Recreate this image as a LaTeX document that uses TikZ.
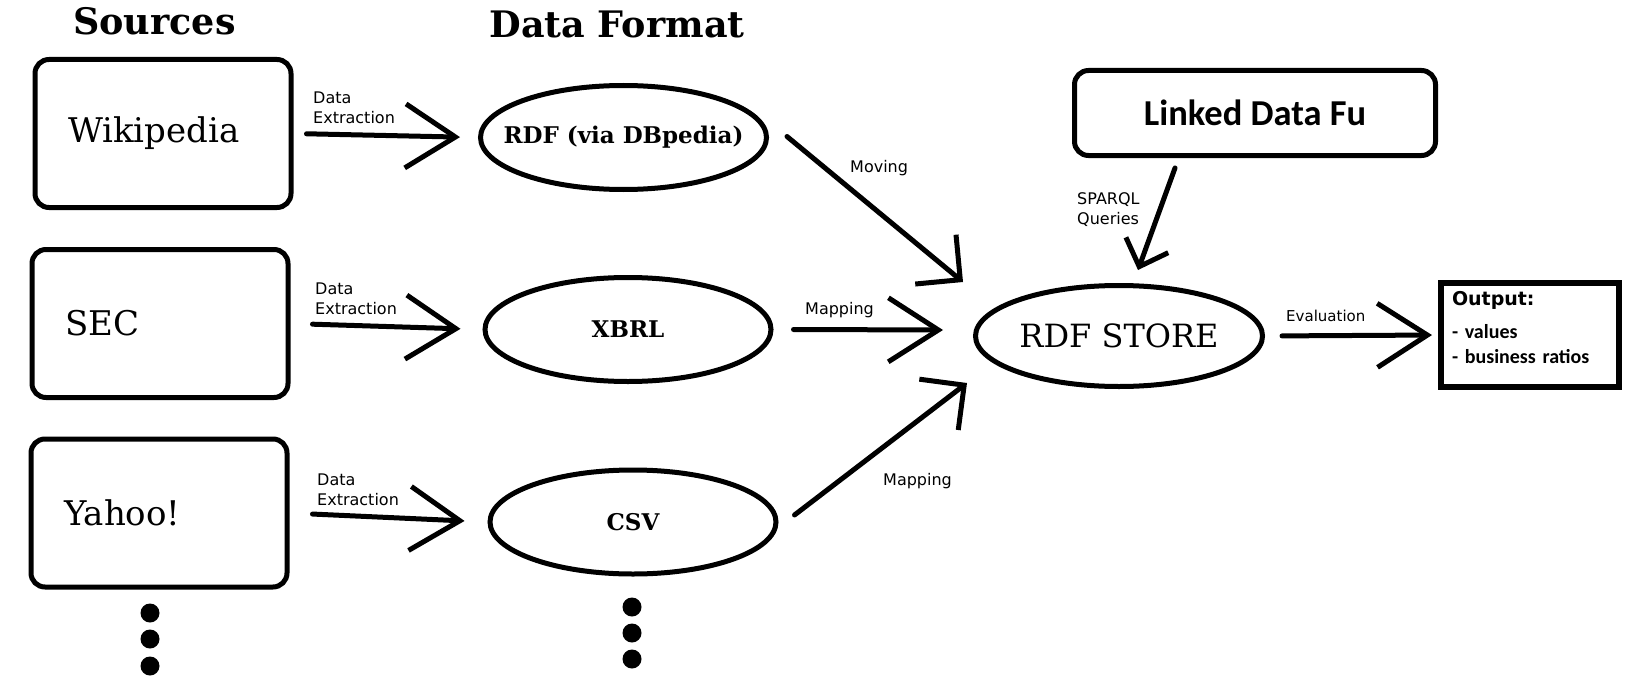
\documentclass[tikz,border=0pt]{standalone}
\usepackage{fontspec}
\setmainfont{DejaVu Serif}
\newfontfamily\labfont{DejaVu Sans}
\newfontfamily\calfont{Carlito}
\usetikzlibrary{arrows.meta,shapes.geometric,calc}
\begin{document}
\begin{tikzpicture}[x=1pt,y=-1pt,
  srcbox/.style={draw, line width=5pt, rounded corners=14pt, minimum width=256pt, minimum height=148pt,
    inner sep=0pt, text width=190pt, align=left, font=\fontsize{34}{40}\selectfont},
  fmt/.style={draw, ellipse, line width=5pt, minimum width=286pt, minimum height=104pt, inner sep=0pt,
    font=\bfseries\fontsize{23}{28}\selectfont},
  titletext/.style={font=\bfseries\fontsize{36.5}{42}\selectfont, anchor=base, inner sep=0pt},
  lbl/.style={font=\labfont\fontsize{16}{20}\selectfont, align=left, anchor=north west, inner sep=0pt},
  arr/.style={line width=5pt, line cap=round, -{Straight Barb[length=50pt,width=64pt]}},
  arrd/.style={line width=5pt, line cap=round, -{Straight Barb[length=32pt,width=64pt]}},
  arrs/.style={line width=5pt, line cap=round, -{Straight Barb[length=23pt,width=45pt]}},
  dot/.style={fill=black},
]
\fill[white] (0,0) rectangle (1632,690);
\useasboundingbox (0,0) rectangle (1632,690);

% titles
\node[titletext] (tsrc) at (154.5,35) {Sources};
\node[titletext] (tfmt) at (617,38) {Data Format};

% sources
\node[srcbox] (wiki) at (163,133.5) {Wikipedia};
\node[srcbox] (sec) at (160,323.5) {SEC};
\node[srcbox] (yahoo) at (159,513) {Yahoo!};

% formats
\node[fmt, inner xsep=-50pt, font=\bfseries\fontsize{23}{28}\selectfont] (rdf) at (623.5,137.5) {RDF (via DBpedia)};
\node[fmt] (xbrl) at (628,329.5) {XBRL};
\node[fmt] (csv) at (633,522) {CSV};

% store
\node[fmt, minimum width=287pt, minimum height=101pt, font=\fontsize{32}{38}\selectfont] (store) at (1119,336) {RDF STORE};

% linked data fu
\node[draw, line width=5pt, rounded corners=14pt, minimum width=361pt, minimum height=85pt, inner sep=0pt,
  font=\calfont\bfseries\fontsize{36.5}{42}\selectfont] (ldf) at (1255,113) {Linked Data Fu};

% output
\node[draw, line width=6pt, minimum width=178pt, minimum height=104pt, inner sep=0pt, text width=156pt,
  align=left, text depth=74pt, font=\calfont\bfseries\fontsize{20}{25}\selectfont] (out) at (1530,335)
  {{\labfont\bfseries\fontsize{19}{25}\selectfont Output:}\\[8pt]- values\\- business ratios};

% extraction arrows
\draw[arr, shorten <=13pt, shorten >=18pt] (wiki.east) -- (rdf.west);
\draw[arr, shorten <=22pt, shorten >=22pt] (sec.east) -- (xbrl.west);
\draw[arr, shorten <=23pt, shorten >=23pt] (yahoo.east) -- (csv.west);
\node[lbl] (l1) at (313,92) {Data\\Extraction};
\node[lbl] (l2) at (315,283) {Data\\Extraction};
\node[lbl] (l3) at (317,474) {Data\\Extraction};

% to store
\draw[arrd] ($(rdf.east)+(18,-1)$) -- ($(store.west)+(-10,-54)$);
\node[lbl] (lmov) at (850,160) {Moving};
\draw[arr] ($(xbrl.east)+(20,0)$) -- ($(store.west)+(-30,-6)$);
\node[lbl] (lmap1) at (805,302) {Mapping};
\draw[arrd] ($(csv.east)+(16,-7)$) -- ($(store.west)+(-6,47)$);
\node[lbl] (lmap2) at (883,473) {Mapping};
\draw[arrs] ($(ldf.south)+(-80,10)$) -- ($(store.north)+(19,-13)$);
\node[lbl] (lsp) at (1077,192) {SPARQL\\Queries};

% evaluation
\draw[arr, shorten <=17pt, shorten >=6pt] (store.east) -- (out.west);
\node[lbl, font=\labfont\fontsize{15}{20}\selectfont] (lev) at (1286,310) {Evaluation};

% dots
\fill[dot] (150,613) circle (9.5);
\fill[dot] (150,639) circle (9.5);
\fill[dot] (150,666) circle (9.5);
\fill[dot] (632,607) circle (9.5);
\fill[dot] (632,633) circle (9.5);
\fill[dot] (632,659) circle (9.5);
\end{tikzpicture}
\end{document}
